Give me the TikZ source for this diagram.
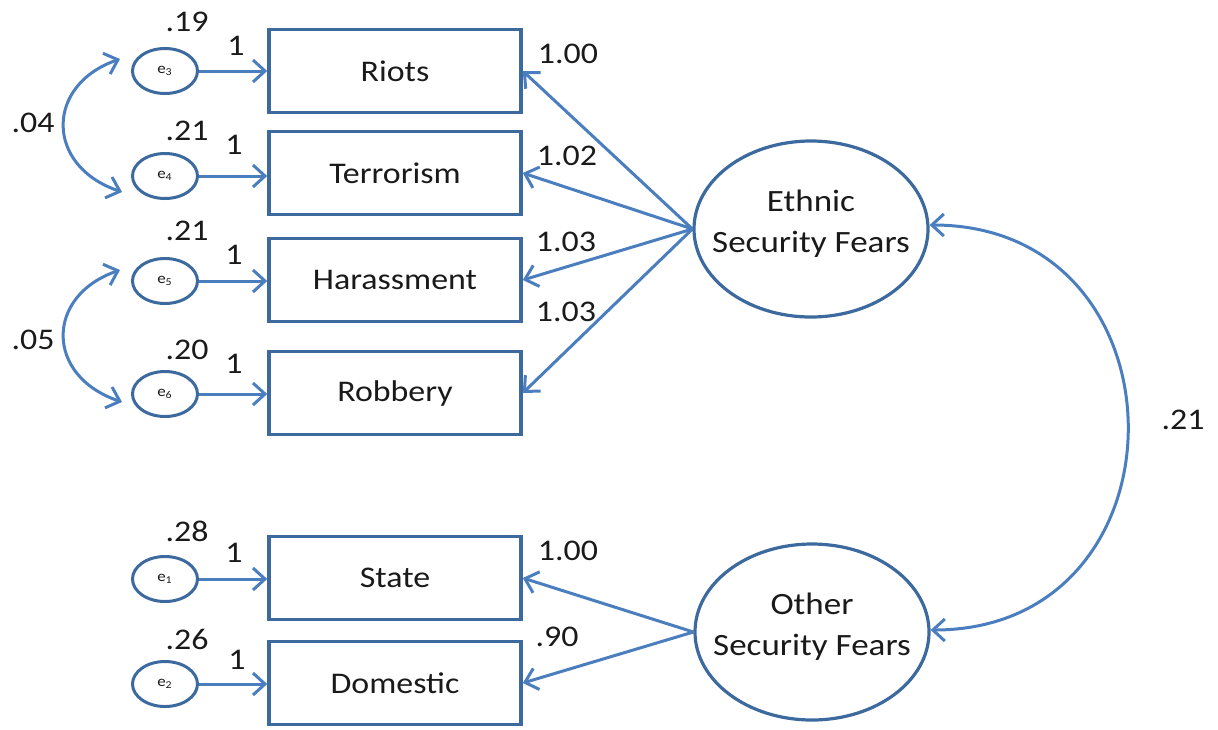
\documentclass[tikz,border=0pt]{standalone}
\usepackage{fontspec}
\setmainfont[FakeStretch=1.13]{Carlito}
\usetikzlibrary{arrows.meta,calc,shapes.geometric}
\definecolor{boxc}{HTML}{3D6A9E}
\definecolor{arrc}{HTML}{4A7EBF}
\definecolor{txt}{HTML}{1A1A1A}
\begin{document}
\begin{tikzpicture}[x=0.5pt,y=-0.5pt,
 every node/.style={text=txt, font=\fontsize{15}{17}\selectfont},
 obs/.style={draw=boxc, line width=1.8pt, minimum width=126pt, minimum height=41.5pt, inner sep=0pt},
 err/.style={ellipse, draw=boxc, line width=1.5pt, minimum width=32.5pt, minimum height=22.5pt, inner sep=0pt, font=\fontsize{7.5}{8}\selectfont},
 lat/.style={ellipse, draw=boxc, line width=1.6pt, minimum width=117pt, minimum height=88pt, inner sep=0pt},
 lattext/.style={align=center, inner sep=0pt, font=\fontsize{15.5}{20.5}\selectfont},
 arr/.style={draw=arrc, line width=1.5pt, -{Straight Barb[length=6pt,width=11pt]}},
 cov/.style={draw=arrc, line width=1.5pt, {Straight Barb[length=6pt,width=11pt]}-{Straight Barb[length=6pt,width=11pt]}},
 lab/.style={inner sep=0pt}
]
\path[fill=white, use as bounding box] (0,0) rectangle (1218,729);

% observed variables
\node[obs] (riots) at (395,71) {Riots};
\node[obs] (terr) at (395,173) {Terrorism};
\node[obs] (har) at (395,280) {Harassment};
\node[obs] (rob) at (395,393) {Robbery};
\node[obs] (state) at (395,578) {State};
\node[obs] (dom) at (395,683) {Domestic};

% error terms
\node[err] (e3) at (165,71) {e\textsubscript{3}};
\node[err] (e4) at (165,176) {e\textsubscript{4}};
\node[err] (e5) at (165,281) {e\textsubscript{5}};
\node[err] (e6) at (165,394) {e\textsubscript{6}};
\node[err] (e1) at (165,579) {e\textsubscript{1}};
\node[err] (e2) at (165,684) {e\textsubscript{2}};

% latent variables
\node[lat] (eth) at (811,229) {};
\node[lattext] (ethT) at (811,224) {Ethnic\\Security Fears};
\node[lat] (oth) at (812,632) {};
\node[lattext] (othT) at (812,627) {Other\\Security Fears};

% error arrows
\draw[arr] (e3.east) -- (e3.east -| riots.west);
\draw[arr] (e4.east) -- (e4.east -| terr.west);
\draw[arr] (e5.east) -- (e5.east -| har.west);
\draw[arr] (e6.east) -- (e6.east -| rob.west);
\draw[arr] (e1.east) -- (e1.east -| state.west);
\draw[arr] (e2.east) -- (e2.east -| dom.west);

% loadings
\draw[arr] (eth.west) -- (riots.east);
\draw[arr] (eth.west) -- (terr.east);
\draw[arr] (eth.west) -- (har.east);
\draw[arr] (eth.west) -- (rob.east);
\draw[arr] (oth.west) -- (state.east);
\draw[arr] (oth.west) -- (dom.east);

% covariances
\draw[cov] ($(e3.center)+(-45,-12)$) .. controls ($(e3.center)+(-120,14)$) and ($(e4.center)+(-120,-10)$) .. ($(e4.center)+(-43,16)$);
\draw[cov] ($(e5.center)+(-45,-11)$) .. controls ($(e5.center)+(-120,15)$) and ($(e6.center)+(-120,-18)$) .. ($(e6.center)+(-43,8)$);
\draw[cov] ($(eth.east)+(0,-4)$) .. controls ($(eth.east)+(263,-4)$) and ($(oth.east)+(263,-2)$) .. ($(oth.east)+(0,-2)$);

% labels
\node[lab] (v3) at (187,22) {.19};
\node[lab] (w3) at (236,46) {1};
\node[lab] (v4) at (187,131) {.21};
\node[lab] (w4) at (234,145) {1};
\node[lab] (v5) at (187,231) {.21};
\node[lab] (w5) at (234,255) {1};
\node[lab] (v6) at (187,350) {.20};
\node[lab] (w6) at (234,364) {1};
\node[lab] (v1) at (187,531) {.28};
\node[lab] (w1) at (234,553) {1};
\node[lab] (v2) at (187,639) {.26};
\node[lab] (w2) at (237,660) {1};

\node[lab] (c34) at (33,123) {.04};
\node[lab] (c56) at (33,340) {.05};
\node[lab] (c12) at (1183,420) {.21};

\node[lab] (l1) at (568,54) {1.00};
\node[lab] (l2) at (567,156) {1.02};
\node[lab] (l3) at (566,242) {1.03};
\node[lab] (l4) at (566,312) {1.03};
\node[lab] (l5) at (568,551) {1.00};
\node[lab] (l6) at (557,637) {.90};
\end{tikzpicture}
\end{document}
